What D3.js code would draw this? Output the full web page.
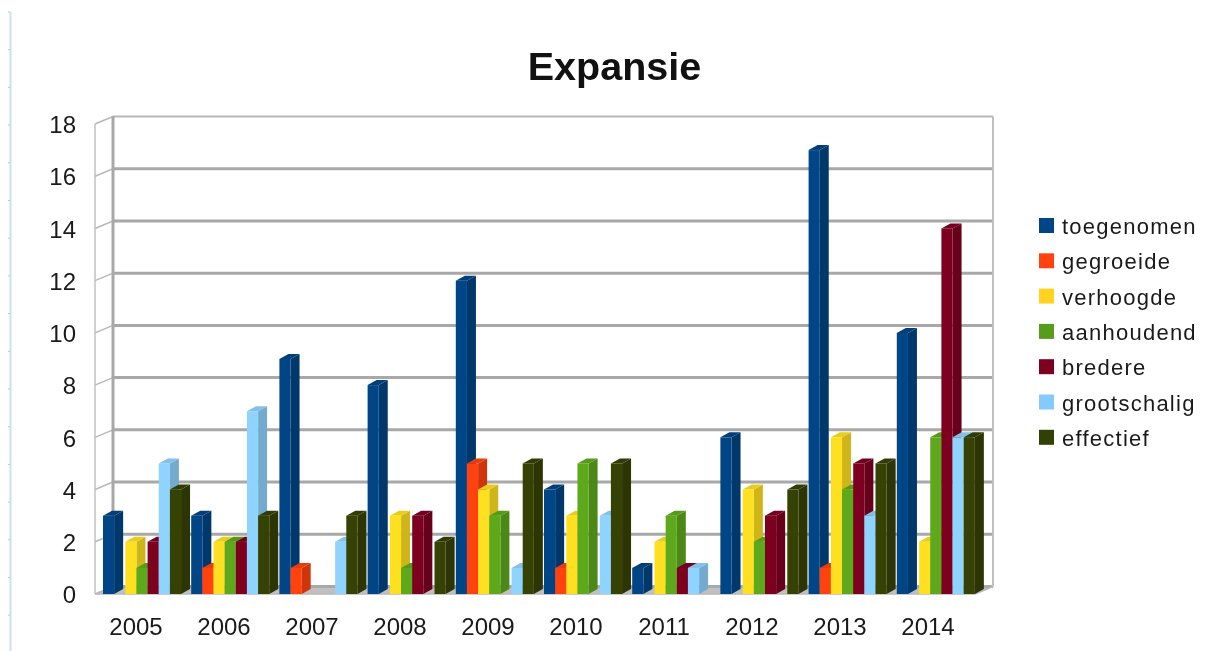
<!DOCTYPE html>
<html lang="nl">
<head>
<meta charset="utf-8">
<title>Expansie</title>
<style>
  html, body { margin: 0; padding: 0; background: #fff; }
  svg { display: block; filter: blur(0.5px); }
  text { font-family: "Liberation Sans", Arial, sans-serif; fill: #1a1a1a; }
</style>
<script src="https://cdnjs.cloudflare.com/ajax/libs/d3/7.8.5/d3.min.js"></script>
</head>
<body>
<svg id="chart" width="1212" height="651"></svg>
<script>
var years = ["2005","2006","2007","2008","2009","2010","2011","2012","2013","2014"];
var seriesNames = ["toegenomen","gegroeide","verhoogde","aanhoudend","bredere","grootschalig","effectief"];
var colors = ["#004586","#ff420e","#ffe020","#5ea81c","#7e0021","#8fd3ff","#364204"];
var legendColors = ["#004586","#ff420e","#ffd320","#579d1c","#7e0021","#83caff","#314004"];

var toegenomen   = [3,3,9,8,12,4,1,6,17,10];
var gegroeide    = [0,1,1,0,5,1,0,0,1,0];
var verhoogde    = [2,2,0,3,4,3,2,4,6,2];
var aanhoudend   = [1,2,0,1,3,5,3,2,4,6];
var bredere      = [2,2,0,3,0,0,1,3,5,14];
var grootschalig = [5,7,2,0,1,3,1,0,3,6];
var effectief    = [4,3,3,2,5,5,0,4,5,6];
var allValues = [toegenomen,gegroeide,verhoogde,aanhoudend,bredere,grootschalig,effectief];
var yTicks = d3.range(0, 19, 2);

var svg = d3.select("#chart");

// front plane of the 3d box, walls are shifted back by wallDx/wallDy
var wallDx = 18, wallDy = -7.5;
var barDx = 9, barDy = -5;
var left = 95, right = 975;

var y = d3.scaleLinear().domain([0, 18]).range([594, 124]);
var x = d3.scaleBand().domain(years).range([left, left + 88.2 * 10]);
var xLabels = d3.scaleBand().domain(years).range([92, 92 + 88 * 10]);
var barW = 11.15;
var barStart = 8;

// page edge on the left
svg.append("line").attr("x1", 10.5).attr("x2", 10.5).attr("y1", 12).attr("y2", 651)
  .attr("stroke", "#d0deee").attr("stroke-width", 2);
svg.selectAll(".rulerTick").data(d3.range(0, 17)).enter().append("line")
  .attr("x1", 8).attr("x2", 10)
  .attr("y1", function(d) { return 12 + d * 37.7; })
  .attr("y2", function(d) { return 12 + d * 37.7; })
  .attr("stroke", "#c4c4c4");

// title
svg.append("text").attr("x", 614.5).attr("y", 80).attr("text-anchor", "middle")
  .style("font-size", "39.5px").style("font-weight", "bold").style("fill", "#111").text("Expansie");

// floor
svg.append("polygon")
  .attr("points", [[left, y(0)], [right, y(0)], [right + wallDx, y(0) + wallDy], [left + wallDx, y(0) + wallDy]].join(" "))
  .attr("fill", "#c0c0c0");

// back wall grid
svg.selectAll(".grid").data(yTicks).enter().append("line")
  .attr("x1", left + wallDx).attr("x2", right + wallDx)
  .attr("y1", function(d) { return y(d) + wallDy; })
  .attr("y2", function(d) { return y(d) + wallDy; })
  .attr("stroke", function(d) { return d == 18 ? "#b8b8b8" : "#a8a8a8"; })
  .attr("stroke-width", function(d) { return d == 18 ? 2 : 3; });

// left wall lines
svg.selectAll(".side").data(yTicks).enter().append("line")
  .attr("x1", left).attr("x2", left + wallDx)
  .attr("y1", function(d) { return y(d); })
  .attr("y2", function(d) { return y(d) + wallDy; })
  .attr("stroke", "#b8b8b8").attr("stroke-width", 1.5);

svg.append("line").attr("x1", left).attr("x2", left).attr("y1", y(18)).attr("y2", y(0))
  .attr("stroke", "#c0c0c0").attr("stroke-width", 1.5);
svg.append("line").attr("x1", left + wallDx).attr("x2", left + wallDx).attr("y1", y(18) + wallDy).attr("y2", y(0) + wallDy)
  .attr("stroke", "#a8a8a8").attr("stroke-width", 3);
svg.append("line").attr("x1", right + wallDx).attr("x2", right + wallDx).attr("y1", y(18) + wallDy).attr("y2", y(0) + wallDy)
  .attr("stroke", "#c0c0c0").attr("stroke-width", 2);
svg.append("line").attr("x1", left).attr("x2", right).attr("y1", y(0)).attr("y2", y(0))
  .attr("stroke", "#b8b8b8").attr("stroke-width", 1.5);
svg.append("line").attr("x1", right).attr("x2", right + wallDx).attr("y1", y(0)).attr("y2", y(0) + wallDy)
  .attr("stroke", "#b8b8b8").attr("stroke-width", 1.5);

// bars, left to right so the next bar covers the side of the previous one
years.forEach(function(year, yi) {
  seriesNames.forEach(function(name, si) {
    var v = allValues[si][yi];
    if (!v) return;
    var x0 = x(year) + barStart + si * barW;
    var x1 = x0 + barW;
    var yT = y(v), yB = y(0);
    var c = d3.color(colors[si]);
    var g = svg.append("g").attr("class", "bar");
    g.append("polygon") // side
      .attr("points", [[x1, yB], [x1 + barDx, yB + barDy], [x1 + barDx, yT + barDy], [x1, yT]].join(" "))
      .attr("fill", c.darker(0.6));
    g.append("polygon") // top
      .attr("points", [[x0, yT], [x0 + barDx, yT + barDy], [x1 + barDx, yT + barDy], [x1, yT]].join(" "))
      .attr("fill", c.darker(0.25));
    g.append("rect") // front
      .attr("x", x0).attr("y", yT).attr("width", barW).attr("height", yB - yT)
      .attr("fill", c);
  });
});

// y axis
var yAxis = d3.axisLeft(y).tickValues(yTicks).tickSize(0).tickPadding(0);
var yG = svg.append("g").attr("transform", "translate(76,1)").call(yAxis);
yG.select(".domain").remove();
yG.selectAll("text").style("font-size", "24px").style("font-family", null);

// x axis
var xAxis = d3.axisBottom(xLabels).tickSize(0).tickPadding(0);
var xG = svg.append("g").attr("transform", "translate(0,618)").call(xAxis);
xG.select(".domain").remove();
xG.selectAll("text").style("font-size", "24px").style("font-family", null);

// legend
var legend = svg.selectAll(".legend").data(seriesNames).enter().append("g")
  .attr("transform", function(d, i) { return "translate(1039," + (218 + i * 35.3) + ")"; });
legend.append("rect").attr("width", 15).attr("height", 15)
  .attr("fill", function(d, i) { return legendColors[i]; });
legend.append("text").attr("x", 23).attr("y", 16)
  .style("font-size", "22px").style("letter-spacing", "1.25px")
  .text(function(d) { return d; });
</script>
</body>
</html>
